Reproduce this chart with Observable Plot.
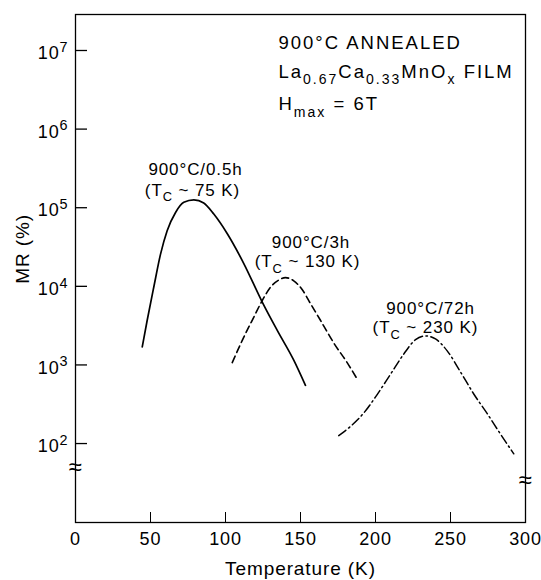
<!DOCTYPE html>
<html><head><meta charset="utf-8">
<script src="https://cdn.jsdelivr.net/npm/d3@7"></script>
<script src="https://cdn.jsdelivr.net/npm/@observablehq/plot@0.6"></script>
<style>
html,body{margin:0;padding:0;background:#fff;}
#chart svg text{letter-spacing:0.9px;}
#chart svg g.title text{letter-spacing:2px;}
</style></head><body><div id="chart"></div>
<script>
// ---- data ----
const temps05 = [44.5, 47.8, 52.2, 56.7, 61.1, 66.7, 72.2, 78.9, 85.5, 92.2, 101.1, 112.2, 124.5, 134.5, 145.5, 153.3];
const mr05    = [1700, 3700, 9800, 25700, 51000, 87000, 117000, 126000, 115000, 83000, 47000, 19500, 6300, 2750, 1150, 550];

const temps3h = [104.5, 111.1, 118.9, 124.5, 130, 135.5, 140, 145.5, 151.1, 156.7, 163.3, 172.2, 181.1, 187.8];
const mr3h    = [1070, 2040, 4070, 6600, 9770, 12000, 12900, 11750, 9100, 6000, 3700, 1900, 1070, 660];

const temps72h = [175.5, 183.3, 192.2, 201.1, 210, 218.9, 226.7, 233.3, 240, 247.8, 256.7, 265.5, 274.5, 283.3, 292.2];
const mr72h    = [126, 165, 245, 420, 760, 1380, 2100, 2340, 2140, 1510, 813, 427, 240, 132, 74];

const xTicks = [0, 50, 100, 150, 200, 250, 300];
const yTicks = [1e2, 1e3, 1e4, 1e5, 1e6, 1e7];

const titleLines = ["900°C ANNEALED", "La_{0.67}Ca_{0.33}MnO_{x} FILM", "H_{max} = 6T"];
const titleX = [135.3, 135.3, 135.3];
const titleY = [1.03e7, 4.53e6, 1.73e6];

const curveLabels = ["900°C/0.5h", "(T_{C} ~ 75 K)", "900°C/3h", "(T_{C} ~ 130 K)", "900°C/72h", "(T_{C} ~ 230 K)"];
const curveLabelX = [80, 78, 157, 154.7, 236.7, 233.3];
const curveLabelY = [2.57e5, 1.43e5, 30900, 17400, 4500, 2580];

const breakX = [0, 300];
const breakY = [49.5, 34];

const xLabel = "Temperature (K)";
const yLabel = "MR (%)";
const yLabelX = -35, yLabelY = 3.0e4;

// ---- tables ----
const rows = (ts, vs) => ts.map((t, i) => ({t, v: vs[i]}));
const s05 = rows(temps05, mr05), s3 = rows(temps3h, mr3h), s72 = rows(temps72h, mr72h);
const titleRows = titleLines.map((s, i) => ({s, x: titleX[i], y: titleY[i]}));
const labelRows = curveLabels.map((s, i) => ({s, x: curveLabelX[i], y: curveLabelY[i]}));
const breakRows = breakX.map((x, i) => ({x, y: breakY[i]}));

const W = 541, H = 580, mL = 75, mR = 16, mT = 14, mB = 58;

const chart = Plot.plot({
  width: W, height: H,
  marginLeft: mL, marginRight: mR, marginTop: mT, marginBottom: mB,
  style: {fontFamily: "'Liberation Sans', Arial, Helvetica, sans-serif", color: "#000", background: "#fff", fontSize: "18px"},
  x: {domain: [0, 300]},
  y: {type: "log", domain: [9.9, 2.87e7]},
  marks: [
    Plot.frame({stroke: "#000", strokeWidth: 1.3}),
    Plot.tickY(yTicks, {y: d => d, insetRight: W - mL - mR - 12, stroke: "#000", strokeWidth: 1.3}),
    Plot.tickX(xTicks.slice(1, -1), {x: d => d, insetTop: H - mT - mB - 10, stroke: "#000", strokeWidth: 1}),
    Plot.axisX(xTicks, {tickSize: 0, tickPadding: 10, tickFormat: d => String(d), fontSize: 18, label: null}),
    Plot.axisY(yTicks, {tickSize: 0, tickPadding: 7, tickFormat: d => "10^{" + Math.round(Math.log10(d)) + "}", fontSize: 18, dy: 3, label: null}),
    Plot.text(breakRows, {x: "x", y: "y", text: () => "≈", fontSize: 24, fill: "#000"}),
    Plot.line(s05, {x: "t", y: "v", curve: "monotone-x", stroke: "#000", strokeWidth: 1.7}),
    Plot.line(s3, {x: "t", y: "v", curve: "monotone-x", stroke: "#000", strokeWidth: 1.6, strokeDasharray: "7,4"}),
    Plot.line(s72, {x: "t", y: "v", curve: "monotone-x", stroke: "#000", strokeWidth: 1.5, strokeDasharray: "9,3.5,1.5,3.5"}),
    Plot.text(titleRows, {x: "x", y: "y", text: "s", textAnchor: "start", lineAnchor: "bottom", fontSize: 18.5, fill: "#000", className: "title"}),
    Plot.text(labelRows, {x: "x", y: "y", text: "s", textAnchor: "middle", lineAnchor: "bottom", fontSize: 17, fill: "#000"}),
    Plot.text([xLabel], {frameAnchor: "bottom", dy: 52, lineAnchor: "bottom", fontSize: 19, fill: "#000"}),
    Plot.text([yLabel], {x: () => yLabelX, y: () => yLabelY, rotate: -90, fontSize: 19, fill: "#000"})
  ]
});
document.getElementById("chart").appendChild(chart);

// rich text: _{sub} and ^{sup}
const svgNS = "http://www.w3.org/2000/svg";
chart.querySelectorAll("text").forEach(el => {
  const s = el.textContent;
  if (!/[_^]\{/.test(s)) return;
  const fs = parseFloat(getComputedStyle(el).fontSize) || 18;
  el.textContent = "";
  const re = /([_^])\{([^}]*)\}|([^_^]+)/g;
  let m, offset = 0;
  while ((m = re.exec(s))) {
    const t = document.createElementNS(svgNS, "tspan");
    if (m[1]) {
      const target = m[1] === "_" ? 0.35 * fs : -0.42 * fs;
      t.setAttribute("dy", target - offset);
      t.setAttribute("font-size", (m[1] === "_" ? 0.76 : 0.8) * fs);
      offset = target;
      t.textContent = m[2];
    } else {
      t.setAttribute("dy", -offset);
      offset = 0;
      t.textContent = m[3];
    }
    el.appendChild(t);
  }
});
</script></body></html>
